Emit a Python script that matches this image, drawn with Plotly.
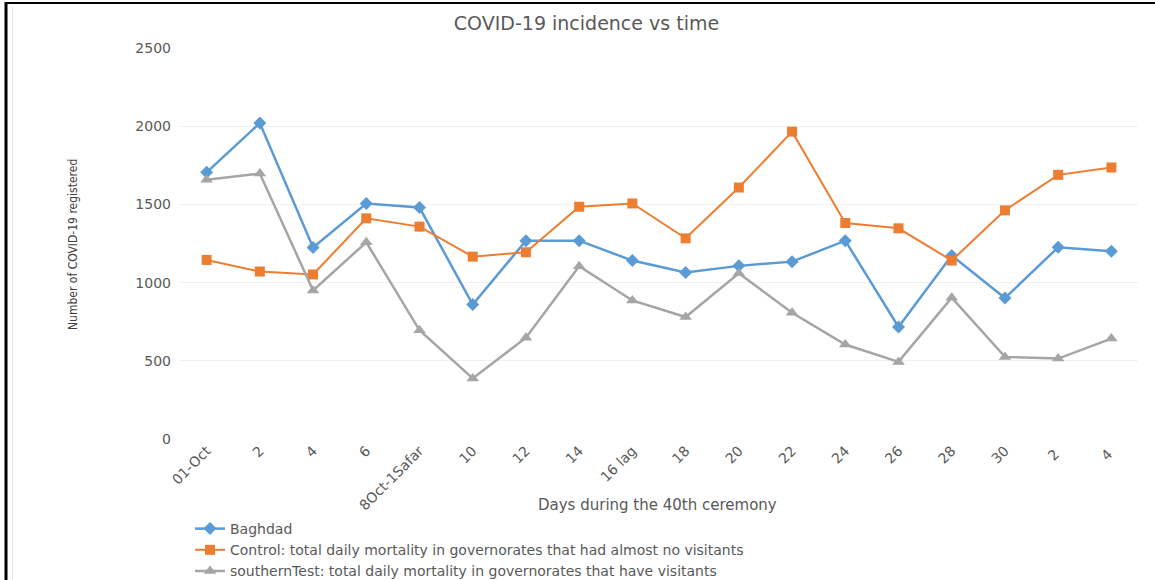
import plotly.graph_objects as go

# Day labels along the 40th ceremony period
days = ["01-Oct", "2", "4", "6", "8Oct-1Safar", "10", "12", "14", "16 lag", "18",
        "20", "22", "24", "26", "28", "30", "2 ", "4 "]

baghdad = [1705, 2020, 1225, 1505, 1480, 860, 1268, 1268, 1141, 1064,
           1107, 1134, 1268, 716, 1173, 901, 1226, 1200]
control = [1145, 1071, 1052, 1411, 1358, 1166, 1194, 1485, 1506, 1283,
           1608, 1965, 1381, 1347, 1141, 1462, 1689, 1736]
southern = [1657, 1697, 950, 1258, 695, 387, 648, 1105, 886, 780,
            1060, 807, 604, 493, 903, 525, 514, 642]

series_names = [
    "Baghdad",
    "Control: total daily mortality in governorates that had almost no visitants",
    "southernTest: total daily mortality in governorates that have visitants",
]
y_ticks = [0, 500, 1000, 1500, 2000, 2500]

W, H = 1155, 580
ML, MR, MT, MB = 180, 17, 48, 141
TXT = "#595959"
FONT = "DejaVu Sans"

fig = go.Figure()
styles = [
    dict(color="#5B9BD5", width=2.5, symbol="diamond", size=10),
    dict(color="#ED7D31", width=2.0, symbol="square", size=10),
    dict(color="#A5A5A5", width=2.5, symbol="triangle-up", size=11),
]
for name, vals, st in zip(series_names, [baghdad, control, southern], styles):
    fig.add_trace(go.Scatter(
        x=days, y=vals, name=name, mode="lines+markers",
        line=dict(color=st["color"], width=st["width"]),
        marker=dict(symbol=st["symbol"], size=st["size"], color=st["color"],
                    line=dict(width=0)),
    ))

# page frame: dark rule along the top and left, thin grey inner edge
pw, ph = W - ML - MR, H - MT - MB
def px_x(v):
    return (v - ML) / pw
def px_y(v):
    return (H - MB - v) / ph

shapes = [
    dict(type="line", xref="paper", yref="paper", x0=px_x(6), x1=px_x(6),
         y0=px_y(2), y1=px_y(H + 2), line=dict(color="#000000", width=3)),
    dict(type="line", xref="paper", yref="paper", x0=px_x(5), x1=px_x(W + 2),
         y0=px_y(3), y1=px_y(3), line=dict(color="#000000", width=2)),
    dict(type="line", xref="paper", yref="paper", x0=px_x(12.5), x1=px_x(12.5),
         y0=px_y(6), y1=px_y(H + 2), line=dict(color="#E6E6E6", width=1)),
]

# axis titles placed as free text
annotations = [
    dict(text="Days during the 40th ceremony", xref="paper", yref="paper",
         x=px_x(657), y=px_y(505), xanchor="center", yanchor="middle",
         showarrow=False, font=dict(family=FONT, size=15, color=TXT)),
    dict(text="Number of COVID-19 registered", xref="paper", yref="paper",
         x=px_x(73), y=px_y(245), xanchor="center", yanchor="middle",
         textangle=-90, showarrow=False,
         font=dict(family="DejaVu Sans Condensed, Liberation Sans Narrow, sans-serif",
                   size=12, color="#404040")),
]

fig.update_layout(
    width=W, height=H,
    margin=dict(l=ML, r=MR, t=MT, b=MB, autoexpand=False),
    paper_bgcolor="white", plot_bgcolor="white",
    font=dict(family=FONT, color=TXT),
    title=dict(text="COVID-19 incidence vs time", x=(410 + 763) / 2 / W,
               xanchor="center", y=1 - 23 / H, yanchor="middle",
               font=dict(family=FONT, size=19, color=TXT)),
    xaxis=dict(
        type="category", range=[-0.5, len(days) - 0.5], automargin=False,
        tickangle=-45, tickfont=dict(family=FONT, size=14, color=TXT),
        showgrid=False, zeroline=False, showline=False, ticks="",
    ),
    yaxis=dict(
        range=[0, 2500], tickvals=y_ticks, automargin=False,
        tickfont=dict(family=FONT, size=14, color=TXT),
        showgrid=True, gridcolor="#F0F0F0", gridwidth=1,
        zeroline=False, showline=False, ticks="", ticklabelstandoff=8,
    ),
    legend=dict(
        xref="container", yref="container", x=190 / W, y=1 - 513 / H,
        xanchor="left", yanchor="top", orientation="v",
        font=dict(family=FONT, size=14, color=TXT),
        bgcolor="rgba(0,0,0,0)", tracegroupgap=0,
    ),
    annotations=annotations,
    shapes=shapes,
)

fig.write_html("out.html")
